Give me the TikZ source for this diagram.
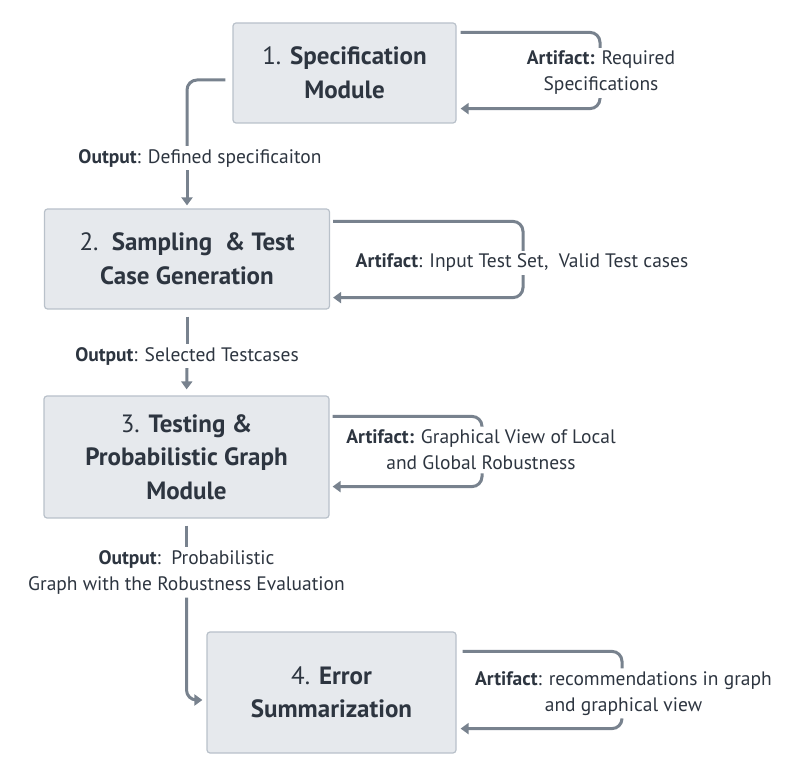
\documentclass[tikz,border=0pt]{standalone}
\usepackage{fontspec}
\setmainfont{PT Sans}
\usetikzlibrary{arrows.meta,positioning}
\definecolor{boxfill}{HTML}{E6E9ED}
\definecolor{boxline}{HTML}{B9C1CA}
\definecolor{wire}{HTML}{78828E}
\definecolor{ink}{HTML}{2D3540}

\begin{document}
\begin{tikzpicture}[
    x=1pt, y=1pt,
    box/.style={rectangle, draw=boxline, fill=boxfill, line width=1.2pt, rounded corners=3pt, align=center, text=ink, font=\fontsize{25}{33.5}\selectfont},
    lbl/.style={align=center, text=ink, inner sep=3pt, font=\fontsize{19.5}{26}\selectfont},
    wireline/.style={draw=wire, line width=3pt, rounded corners=10pt},
    arr/.style={wireline, -{Triangle[length=8pt, width=11pt]}}
  ]
    \useasboundingbox (0,0) rectangle (788,772);
    % modules
    \node[box, minimum width=223pt, minimum height=100pt] (s1) at (344.5,699) {1. \textbf{Specification}\\\textbf{Module}};
    \node[box, minimum width=285pt, minimum height=100pt] (s2) at (187,513) {2.\ \ \textbf{Sampling\ \ \& Test}\\\textbf{Case Generation}};
    \node[box, minimum width=285pt, minimum height=122pt] (s3) at (186.5,315) {3. \textbf{Testing \&}\\\textbf{Probabilistic Graph}\\\textbf{Module}};
    \node[box, minimum width=249pt, minimum height=121pt] (s4) at (331.5,79.5) {4. \textbf{Error}\\\textbf{Summarization}};
    % labels
    \node[lbl] (a1) at (601,699) {\textbf{Artifact:} Required\\Specifications};
    \node[lbl] (o1) at (200,614) {\textbf{Output}: Defined specificaiton};
    \node[lbl] (a2) at (522,509) {\textbf{Artifact}: Input Test Set,\ \ Valid Test cases};
    \node[lbl] (o2) at (187,416) {\textbf{Output}: Selected Testcases};
    \node[lbl] (a3) at (481,322) {\textbf{Artifact:} Graphical View of Local\\and Global Robustness};
    \node[lbl] (o3) at (186.5,199.5) {\textbf{Output}:\ \ Probabilistic\\Graph with the Robustness Evaluation};
    \node[lbl] (a4) at (623.5,78.5) {\textbf{Artifact}: recommendations in graph\\and graphical view};
    % loop columns
    \coordinate (c1) at (600,0);
    \coordinate (c2) at (523,0);
    \coordinate (c3) at (482,0);
    \coordinate (c4) at (622,0);
    % artifact loops
    \draw[wireline] ([shift={(4,-10)}]s1.north east) -| (a1.north -| c1);
    \draw[arr] (a1.south -| c1) |- ([shift={(4,15)}]s1.south east);
    \draw[wireline] ([shift={(3,-13)}]s2.north east) -| (a2.north -| c2);
    \draw[arr] (a2.south -| c2) |- ([shift={(3,12)}]s2.south east);
    \draw[wireline] ([shift={(3,-21)}]s3.north east) -| (a3.north -| c3);
    \draw[arr] (a3.south -| c3) |- ([shift={(3,32)}]s3.south east);
    \draw[wireline] ([shift={(6,-20)}]s4.north east) -| (a4.north -| c4);
    \draw[arr] (a4.south -| c4) |- ([shift={(4,25)}]s4.south east);
    % outputs
    \draw[wireline] ([shift={(-7,-7)}]s1.west) -| (o1.north -| s2.north);
    \draw[arr, shorten >=3pt] (o1.south -| s2.north) -- (s2.north);
    \draw[wireline, shorten <=7pt] (s2.south) -- (o2.north);
    \draw[arr, shorten >=6pt] (o2.south) -- (s3.north);
    \draw[wireline, shorten <=7pt] (s3.south) -- (o3.north);
    \draw[arr, shorten >=4pt] (o3.south -| s3.south) |- ([yshift=-7.5]s4.west);
\end{tikzpicture}
\end{document}
